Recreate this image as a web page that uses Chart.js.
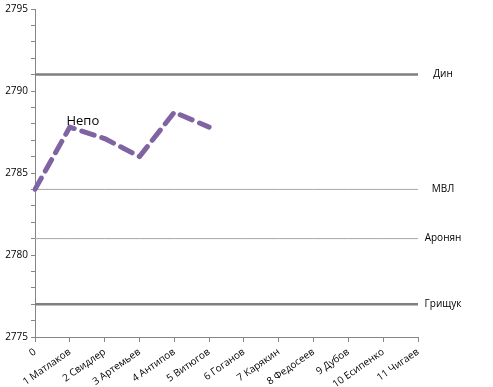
<!DOCTYPE html>
<html>
<head>
<meta charset="utf-8">
<script src="https://cdn.jsdelivr.net/npm/chart.js@4"></script>
<style>
  html, body { margin: 0; padding: 0; background: #fff; }
  #wrap { width: 493px; height: 387px; }
</style>
</head>
<body>
<div id="wrap"><canvas id="chart"></canvas></div>
<script>
// x categories
const players = ["0", "1 Матлаков", "2 Свидлер", "3 Артемьев", "4 Антипов", "5 Витюгов",
  "6 Гоганов", "7 Карякин", "8 Федосеев", "9 Дубов", "10 Есипенко", "11 Чигаев"];

// rating after each round
const nepoRating = [2784, 2787.8, 2787.1, 2786, 2788.7, 2787.8];
const nepoName = "Непо";

// reference levels of rivals
const rivalNames = ["Дин", "МВЛ", "Аронян", "Грищук"];
const rivalRatings = [2791, 2784, 2781, 2777];

const yMin = 2775;
const yMax = 2795;

const fontFamily = "'Open Sans', 'Liberation Sans', sans-serif";
const axisColor = "#868686";
const rivalColors = ["#7f7f7f", "#a6a6a6", "#a6a6a6", "#7f7f7f"];
const rivalWidths = [2.5, 1, 1, 2.5];

const rivalDatasets = rivalNames.map((name, i) => ({
  label: name,
  data: players.map(() => rivalRatings[i]),
  borderColor: rivalColors[i],
  borderWidth: rivalWidths[i],
  pointRadius: 0,
  fill: false,
}));

const labelsPlugin = {
  id: "sideLabels",
  afterDatasetsDraw(chart) {
    const ctx = chart.ctx;
    const y = chart.scales.y;
    const area = chart.chartArea;
    ctx.save();
    ctx.fillStyle = "#000";
    ctx.font = "10px " + fontFamily;
    ctx.textAlign = "center";
    ctx.textBaseline = "middle";
    rivalNames.forEach((name, i) => {
      ctx.fillText(name, area.right + 25, y.getPixelForValue(rivalRatings[i]));
    });

    // name of the main line, near its second point
    const pt = chart.getDatasetMeta(0).data[1];
    ctx.font = "13px " + fontFamily;
    ctx.textAlign = "center";
    ctx.textBaseline = "alphabetic";
    ctx.fillText(nepoName, pt.x + 13, pt.y - 2);
    ctx.restore();
  },
};

new Chart(document.getElementById("chart"), {
  type: "line",
  data: {
    labels: players,
    datasets: [
      {
        label: nepoName,
        data: nepoRating,
        borderColor: "#8064a2",
        borderWidth: 5,
        borderDash: [13, 8],
        borderCapStyle: "round",
        borderJoinStyle: "round",
        pointRadius: 0,
        tension: 0,
        fill: false,
      },
      ...rivalDatasets,
    ],
  },
  options: {
    responsive: true,
    maintainAspectRatio: false,
    animation: false,
    layout: { padding: { top: 9, right: 75, left: 0, bottom: 0 } },
    plugins: {
      legend: { display: false },
      tooltip: { enabled: false },
    },
    scales: {
      x: {
        offset: false,
        grid: { drawOnChartArea: false, color: axisColor, tickLength: 5 },
        border: { color: axisColor, width: 1 },
        ticks: {
          color: "#000",
          font: { family: fontFamily, size: 10 },
          minRotation: 35,
          maxRotation: 35,
          autoSkip: false,
          padding: 4,
        },
        afterFit(scale) { scale.height = 50; },
      },
      y: {
        min: yMin,
        max: yMax,
        grid: { drawOnChartArea: false, color: axisColor, tickLength: 4 },
        border: { color: axisColor, width: 1 },
        ticks: {
          stepSize: 1,
          autoSkip: false,
          color: "#000",
          font: { family: fontFamily, size: 10 },
          padding: 3,
          callback: (v) => (v % 5 === 0 ? String(v) : ""),
        },
        afterFit(scale) { scale.width = 35; },
      },
    },
  },
  plugins: [labelsPlugin],
});
</script>
</body>
</html>
